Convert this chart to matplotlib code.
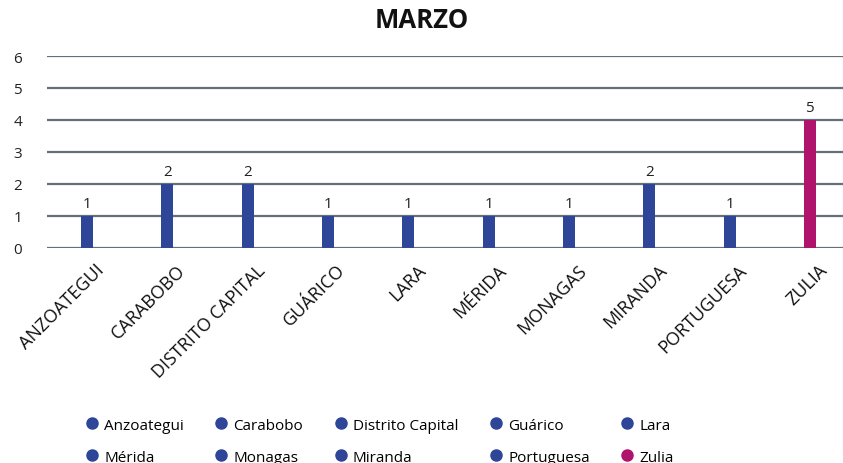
import matplotlib.pyplot as plt
import matplotlib.transforms as mtransforms
from matplotlib.lines import Line2D

# chart values
states = ['Anzoategui', 'Carabobo', 'Distrito Capital', 'Guárico', 'Lara',
          'Mérida', 'Monagas', 'Miranda', 'Portuguesa', 'Zulia']
tick_labels = ['ANZOATEGUI', 'CARABOBO', 'DISTRITO CAPITAL', 'GUÁRICO', 'LARA',
               'MÉRIDA', 'MONAGAS', 'MIRANDA', 'PORTUGUESA', 'ZULIA']
bar_heights = [1, 2, 2, 1, 1, 1, 1, 2, 1, 4]
value_labels = [1, 2, 2, 1, 1, 1, 1, 2, 1, 5]

blue = '#2E4598'
magenta = '#B0136C'
colors = [blue] * 9 + [magenta]

plt.rcParams['font.family'] = ['Open Sans', 'DejaVu Sans']

fig = plt.figure(figsize=(8.43, 4.64), dpi=100)
W, H = 843, 464
ax = fig.add_axes([47 / W, 1 - 249 / H, 803 / W, 192 / H])

x = list(range(len(states)))
ax.bar(x, bar_heights, width=0.15, color=colors, zorder=3)

for xi, h, lab in zip(x, bar_heights, value_labels):
    ax.text(xi, h + 0.15, str(lab), ha='center', va='bottom', fontsize=11, color='#222222')

ax.set_xlim(-0.5, 9.5)
ax.set_ylim(0, 6)
ax.set_yticks(range(0, 7))
ax.grid(axis='y', color='#65707a', linewidth=1.6, zorder=0)
for s in ax.spines.values():
    s.set_visible(False)
ax.tick_params(axis='y', length=0, pad=18, labelsize=11, labelcolor='#222222')
ax.tick_params(axis='x', length=0, pad=9)
ax.set_xticks(x)
ax.set_xticklabels(tick_labels, rotation=45, ha='right', va='top',
                   rotation_mode='anchor', fontsize=13, color='#111111')
shift = mtransforms.ScaledTranslation(6 / 72, 0, fig.dpi_scale_trans)
for t in ax.get_xticklabels():
    t.set_transform(t.get_transform() + shift)

fig.text(422 / W, 1 - 21 / H, 'MARZO', ha='center', va='center',
         fontsize=18.5, fontweight='bold', color='#111111')

# legend: row-wise order, matplotlib fills by column
order = [0, 5, 1, 6, 2, 7, 3, 8, 4, 9]
handles = [Line2D([0], [0], marker='o', linestyle='none', markersize=8,
                  markerfacecolor=colors[i], markeredgecolor=colors[i]) for i in order]
labels = [states[i] for i in order]
fig.legend(handles, labels, ncol=5, frameon=False, fontsize=11,
           loc='upper left', bbox_to_anchor=(69 / W, 1 - 405 / H),
           handletextpad=0.2, columnspacing=1.85, labelspacing=1.1,
           handlelength=1.2)

fig.savefig('out.png', dpi=100)
